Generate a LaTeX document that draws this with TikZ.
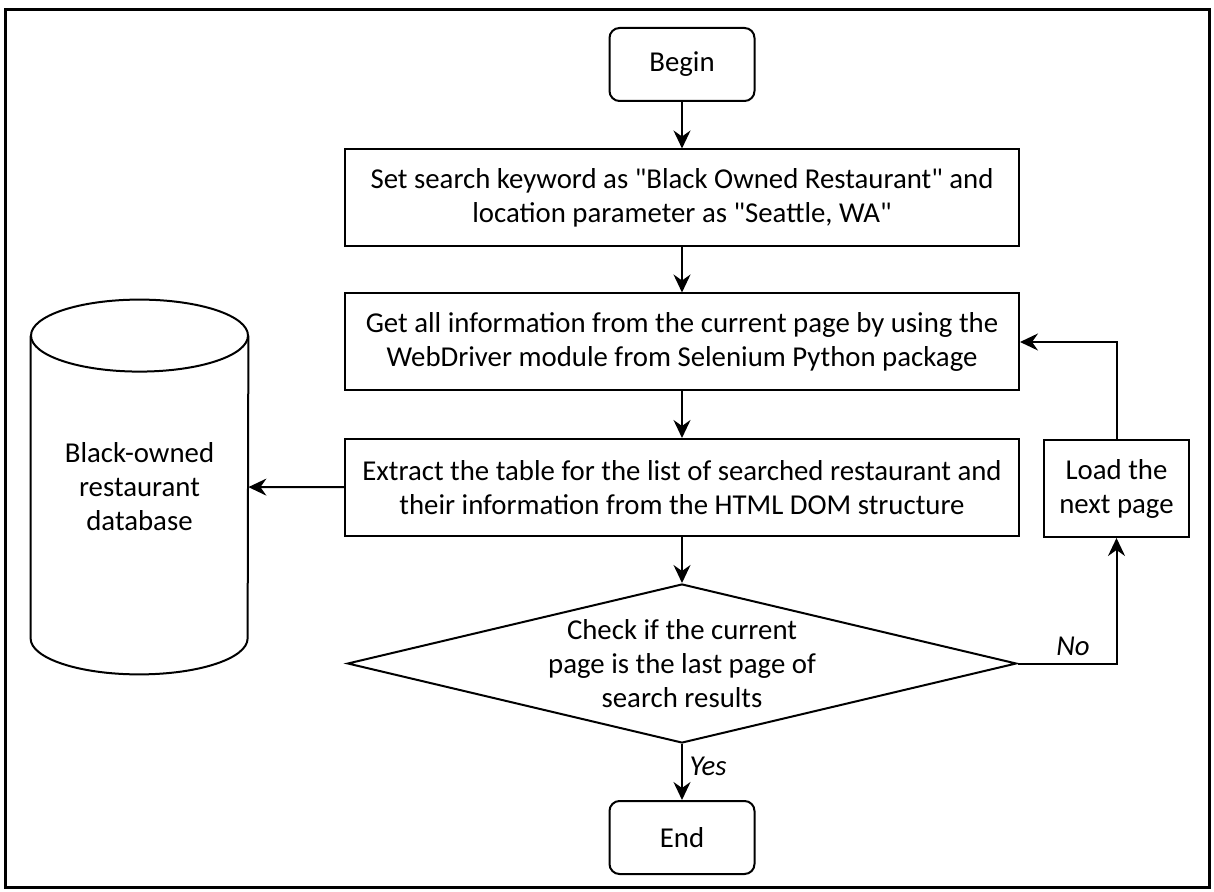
\documentclass[tikz,border=0pt]{standalone}
\usepackage{fontspec}
\setmainfont{Carlito}
\usetikzlibrary{arrows.meta,shapes.geometric,positioning}

\begin{document}
\begin{tikzpicture}[x=0.5pt,y=-0.5pt,
    every node/.style={font=\fontsize{14.4}{17}\selectfont},
    proc/.style={draw,line width=1pt,minimum width=337pt,minimum height=48.5pt,align=center,inner sep=0pt},
    term/.style={draw,line width=1pt,rounded corners=5pt,minimum width=72.5pt,minimum height=36.5pt},
    decision/.style={draw,line width=1pt,diamond,minimum width=334.5pt,minimum height=79.5pt,inner sep=0pt},
    flow/.style={line width=1pt,-{Stealth[length=9pt,width=8.5pt,inset=3pt]}},
    lbl/.style={font=\fontsize{14.4}{17}\selectfont\itshape}]
    \useasboundingbox (0,0) rectangle (1214,892);
    \draw[line width=1.5pt] (5,10) rectangle (1209,887);

    % main column
    \node[term] (begin) at (682,64.5) {Begin};
    \node[proc] (keyword) at (682,198) {Set search keyword as \textquotedbl Black Owned Restaurant\textquotedbl\ and\\location parameter as \textquotedbl Seattle, WA\textquotedbl};
    \node[proc] (getinfo) at (682,342) {Get all information from the current page by using the\\WebDriver module from Selenium Python package};
    \node[proc] (extract) at (682,487.5) {Extract the table for the list of searched restaurant and\\their information from the HTML DOM structure};
    \node[decision] (check) at (682,663.5) {};
    \node[align=center] (checktext) at (check) {Check if the current\\page is the last page of\\search results};
    \node[term] (end) at (682,837.5) {End};

    % loop back
    \node[draw,line width=1pt,minimum width=72.5pt,minimum height=48.5pt,align=center] (load) at (1116.5,488.5) {Load the\\next page};

    % database
    \node[minimum width=108.5pt,minimum height=187pt,align=center] (db) at (139.5,487) {Black-owned\\restaurant\\database};
    \draw[line width=1pt] ([yshift=-18pt]db.north) ellipse [x radius=54.25pt, y radius=18pt];
    \draw[line width=1pt] ([yshift=-18pt]db.north west) -- ([yshift=18pt]db.south west)
        arc [start angle=180, end angle=360, x radius=54.25pt, y radius=18pt] -- ([yshift=-18pt]db.north east);

    \draw[flow] (begin) -- (keyword);
    \draw[flow] (keyword) -- (getinfo);
    \draw[flow] (getinfo) -- (extract);
    \draw[flow] (extract) -- (check);
    \draw[flow] (check) -- node[lbl,right,pos=0.4] {Yes} (end);
    \draw[flow] (extract) -- (db);
    \draw[flow] (check.east) -| node[lbl,above,pos=0.28] {No} (load);
    \draw[flow] (load) |- (getinfo);
\end{tikzpicture}
\end{document}
